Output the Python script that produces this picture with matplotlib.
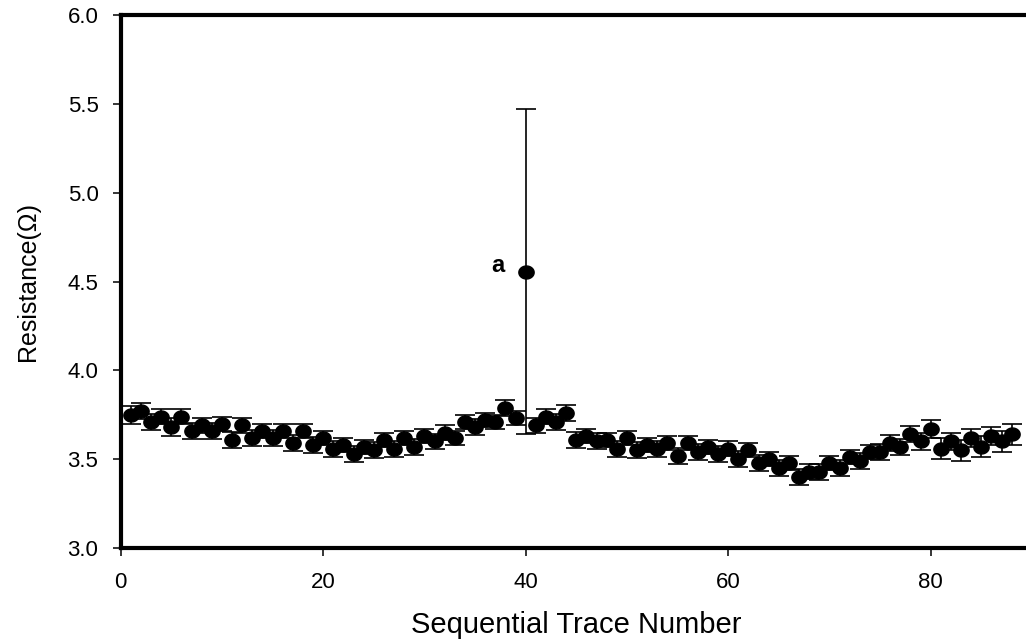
import numpy as np
import matplotlib
matplotlib.use('Agg')
import matplotlib.pyplot as plt
from matplotlib.path import Path

plt.rcParams['font.family'] = ['Liberation Sans', 'DejaVu Sans']

# trace numbers 1..88
trace = np.arange(1, 89)

resistance = [3.75, 3.77, 3.71, 3.74, 3.68, 3.74, 3.66, 3.69, 3.66, 3.70,
              3.61, 3.69, 3.62, 3.66, 3.62, 3.66, 3.59, 3.66, 3.58, 3.62,
              3.56, 3.58, 3.53, 3.57, 3.55, 3.61, 3.56, 3.62, 3.57, 3.63,
              3.60, 3.65, 3.62, 3.71, 3.68, 3.72, 3.71, 3.79, 3.73, 4.555,
              3.69, 3.74, 3.71, 3.76, 3.61, 3.63, 3.60, 3.61, 3.56, 3.62,
              3.55, 3.58, 3.56, 3.59, 3.52, 3.59, 3.54, 3.57, 3.53, 3.56,
              3.50, 3.55, 3.48, 3.50, 3.45, 3.48, 3.40, 3.43, 3.43, 3.48,
              3.45, 3.51, 3.49, 3.54, 3.54, 3.59, 3.57, 3.64, 3.60, 3.67,
              3.56, 3.60, 3.55, 3.62, 3.57, 3.63, 3.60, 3.64]

error = [0.05, 0.045, 0.047, 0.04, 0.05, 0.04, 0.045, 0.04, 0.045, 0.04,
         0.045, 0.04, 0.045, 0.04, 0.045, 0.04, 0.045, 0.04, 0.045, 0.04,
         0.045, 0.04, 0.045, 0.04, 0.045, 0.04, 0.045, 0.04, 0.045, 0.04,
         0.04, 0.04, 0.04, 0.04, 0.045, 0.04, 0.04, 0.045, 0.04, 0.915,
         0.04, 0.04, 0.045, 0.045, 0.045, 0.04, 0.045, 0.04, 0.045, 0.04,
         0.045, 0.04, 0.045, 0.04, 0.045, 0.04, 0.045, 0.04, 0.045, 0.04,
         0.045, 0.04, 0.045, 0.04, 0.045, 0.04, 0.045, 0.04, 0.045, 0.04,
         0.045, 0.04, 0.045, 0.04, 0.045, 0.045, 0.045, 0.045, 0.05, 0.05,
         0.06, 0.05, 0.06, 0.05, 0.06, 0.05, 0.06, 0.06]

x_ticks = [0, 20, 40, 60, 80]
y_ticks = [3.0, 3.5, 4.0, 4.5, 5.0, 5.5, 6.0]

# slightly flattened dot, like the original's markers
t = np.linspace(0, 2 * np.pi, 60)
ellipse = Path(np.column_stack([np.cos(t), 0.85 * np.sin(t)]), closed=True)

fig = plt.figure(figsize=(10.26, 6.41), dpi=100)
# axes runs past the right edge of the picture (right spine cropped off)
ax = fig.add_axes([120.7 / 1026, 93 / 641, 911.3 / 1026, 533 / 641])

ax.errorbar(trace, resistance, yerr=error, fmt='none', ecolor='black',
            elinewidth=1.2, capsize=7, capthick=1.2, zorder=2)
ax.plot(trace, resistance, linestyle='none', marker=ellipse, markersize=11,
        color='black', zorder=3)

ax.text(37.26, 4.555, 'a', fontsize=17, fontweight='bold',
        ha='center', va='baseline')

ax.set_xlim(0, 90)
ax.set_ylim(3.0, 6.0)
ax.set_xticks(x_ticks)
ax.set_yticks(y_ticks)
ax.set_yticklabels(['%.1f' % v for v in y_ticks])

for side in ['left', 'bottom', 'top']:
    ax.spines[side].set_linewidth(3)
ax.spines['right'].set_visible(False)

ax.tick_params(axis='both', direction='out', length=6, width=1.1,
               labelsize=16, colors='black')
ax.tick_params(axis='y', pad=10)
ax.tick_params(axis='x', pad=11)

ax.set_xlabel('Sequential Trace Number', fontsize=21, labelpad=13)
ax.set_ylabel('Resistance(Ω)', fontsize=18, labelpad=20)

fig.savefig('out.png', dpi=100)
